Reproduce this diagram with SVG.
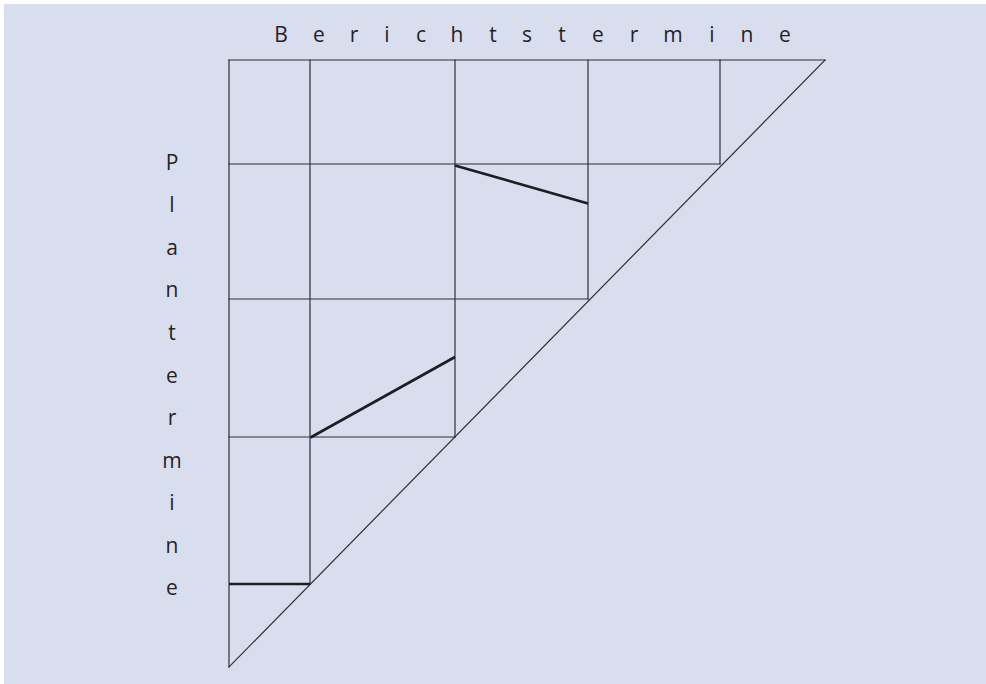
<svg xmlns="http://www.w3.org/2000/svg" width="986" height="684" viewBox="0 0 986 684">
  <style>
    .bg { fill: #d9deef; }
    .grid { stroke: #2e2e33; stroke-width: 1.2; fill: none; stroke-linecap: square; }
    .thick { stroke: #1e1e22; stroke-width: 2.6; fill: none; }
    .lbl { font-family: "Open Sans", "Noto Sans", "Liberation Sans", sans-serif; font-size: 21px; fill: #232326; text-anchor: middle; }
  </style>
  <rect x="0" y="0" width="986" height="684" fill="#ffffff"/>
  <rect class="bg" x="4" y="4" width="982" height="680"/>
  <g id="grid" class="grid">
    <line x1="229" y1="60" x2="825" y2="60"/>
    <line x1="229" y1="164" x2="720" y2="164"/>
    <line x1="229" y1="299" x2="588" y2="299"/>
    <line x1="229" y1="437" x2="455" y2="437"/>
    <line x1="229" y1="60" x2="229" y2="667"/>
    <line x1="310" y1="60" x2="310" y2="584"/>
    <line x1="455" y1="60" x2="455" y2="437"/>
    <line x1="588" y1="60" x2="588" y2="299"/>
    <line x1="720" y1="60" x2="720" y2="164"/>
    <line x1="825" y1="60" x2="229" y2="667"/>
  </g>
  <g id="connectors" class="thick">
    <line x1="455" y1="165.5" x2="588" y2="203.5"/>
    <line x1="310.5" y1="437.5" x2="455" y2="357"/>
    <line x1="229" y1="584" x2="310" y2="584"/>
  </g>
  <g id="label-berichtstermine">
    <text class="lbl" y="42" x="281 319 354 387 421 457 493 527 562 598 634 673 712 747 785">Berichtstermine</text>
  </g>
  <g id="label-plantermine">
    <text class="lbl" x="172" y="170">P</text>
    <text class="lbl" x="172" y="212">l</text>
    <text class="lbl" x="172" y="255">a</text>
    <text class="lbl" x="172" y="297">n</text>
    <text class="lbl" x="172" y="340">t</text>
    <text class="lbl" x="172" y="383">e</text>
    <text class="lbl" x="172" y="425">r</text>
    <text class="lbl" x="172" y="468">m</text>
    <text class="lbl" x="172" y="510">i</text>
    <text class="lbl" x="172" y="553">n</text>
    <text class="lbl" x="172" y="595">e</text>
  </g>
</svg>
